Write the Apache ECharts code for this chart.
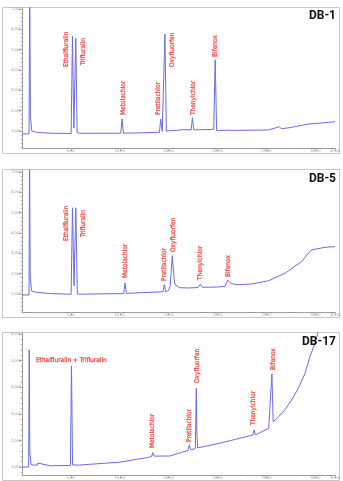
<!DOCTYPE html>
<html>
<head>
<meta charset="utf-8">
<script src="https://cdn.jsdelivr.net/npm/echarts@6/dist/echarts.min.js"></script>
<style>
html, body { margin: 0; padding: 0; background: #fff; }
#chart { width: 343px; height: 481px; }
</style>
</head>
<body>
<div id="chart"></div>
<script>
// retention time (min) / abundance
const db1Trace = [
    [0, 860], [0.72, 860], [0.79, 8000], [0.86, 1700], [0.92, 1690], [1.0, 1000], [1.2, 960],
    [1.55, 930], [1.62, 990], [1.7, 920], [3.0, 890], [3.05, 930], [3.12, 890], [5.02, 880],
    [5.16, 5670], [5.3, 1150], [5.5, 5560], [5.64, 920], [5.9, 890], [10.1, 890], [10.23, 1590],
    [10.38, 895], [12.0, 905], [14.05, 940], [14.18, 1590], [14.34, 980], [14.61, 5760],
    [14.76, 1000], [15.8, 1030], [16.5, 1070], [16.6, 1150], [16.7, 1060], [17.3, 1050],
    [17.42, 1650], [17.56, 1055], [19.6, 1080], [19.75, 4490], [19.9, 1010], [21.1, 1040],
    [21.3, 1110], [21.45, 1030], [25.2, 1050], [25.9, 1150], [26.0, 1080], [26.3, 1220],
    [26.5, 1110], [27.3, 1160], [29.3, 1340], [31.0, 1410], [32, 1460],
]
const db2Trace = [
    [0, 950], [0.72, 950], [0.77, 8000], [0.84, 1840], [0.9, 1830], [0.98, 1150], [1.3, 1100],
    [1.55, 1080], [1.62, 1150], [1.7, 1060], [2.9, 1020], [2.94, 1080], [3.0, 1010], [5.02, 985],
    [5.16, 5240], [5.32, 1400], [5.5, 5240], [5.66, 1000], [6.0, 990], [10.4, 1020], [10.53, 1540],
    [10.68, 1030], [13.0, 1084], [14.0, 1098], [14.42, 1110], [14.55, 1458], [14.7, 1110],
    [14.8, 1120], [15.0, 1180], [15.15, 1400], [15.36, 2880], [15.59, 1540], [15.8, 1394],
    [16.1, 1310], [17.0, 1295], [18.0, 1320], [18.23, 1480], [18.45, 1330], [20.0, 1344],
    [20.75, 1370], [21.03, 1690], [21.3, 1540], [21.57, 1490], [22.08, 1458], [23.49, 1492],
    [25.22, 1654], [26.94, 2033], [28.56, 2589], [29.57, 3165], [30.99, 3298], [32, 3327],
]
const db3Trace = [
    [0, 1000], [0.68, 1000], [0.74, 5400], [0.8, 1520], [0.87, 1500], [0.94, 1080], [1.55, 1070],
    [1.62, 1150], [1.7, 1075], [2.9, 1045], [2.94, 1080], [3.0, 1045], [4.95, 1060], [5.06, 4800],
    [5.17, 1075], [5.9, 1075], [9.9, 1180], [12.96, 1365], [13.25, 1400], [13.37, 1540],
    [13.5, 1410], [15.1, 1414], [16.95, 1620], [17.11, 1830], [17.24, 1650], [17.5, 1670],
    [17.72, 1700], [17.82, 3960], [17.88, 2330], [17.96, 1720], [18.05, 1703], [20.15, 1890],
    [21.84, 2042], [23.19, 2166], [23.6, 2200], [23.73, 2390], [23.86, 2210], [25.22, 2455],
    [25.42, 2510], [25.55, 4500], [25.68, 2700], [25.82, 2770], [26.23, 2890], [26.91, 3170],
    [27.57, 3520], [28.25, 3960], [28.93, 4520], [29.44, 5150], [29.94, 5650], [30.48, 6340],
]

// peak names and where their text starts (time, abundance)
const db1Names = ['Ethalfluralin', 'Trifluralin', 'Metolachlor', 'Pretilachlor', 'Oxyfluorfen', 'Thenylchlor', 'Bifenox']
const db1LabelAt = [[4.56, 4149], [6.28, 4247], [10.33, 1787], [13.97, 1787], [15.39, 4149], [17.47, 1787], [19.8, 4641]]
const db2Names = db1Names
const db2LabelAt = [[4.56, 3608], [6.28, 3804], [10.53, 1787], [14.53, 1640], [15.44, 3066], [18.23, 1689], [21.11, 1836]]
const db3Names = ['Ethalfluralin + Trifluralin', 'Metolachlor', 'Pretilachlor', 'Oxyfluorfen', 'Thenylchlor', 'Bifenox']
const db3LabelAt = [[1.42, 5004], [13.32, 1714], [17.06, 1940], [17.97, 4158], [23.65, 2579], [25.67, 4647]]

const columnNames = ['DB-1', 'DB-5', 'DB-17']

// tick labels
const xTicks = [5, 10, 15, 20, 25, 30, 32]
const yTicks12 = [1000, 2000, 3000, 4000, 5000, 6000, 7000]
const yTicks3 = [1000, 2000, 3000, 4000, 5000, 6000]

const panels = [
    { trace: db1Trace, names: db1Names, at: db1LabelAt, yTicks: yTicks12, min: 164, max: 7050, top: 8, height: 140, boxTop: 7, titleTop: 10 },
    { trace: db2Trace, names: db2Names, at: db2LabelAt, yTicks: yTicks12, min: 114, max: 7100, top: 170, height: 142, boxTop: 169, titleTop: 173 },
    { trace: db3Trace, names: db3Names, at: db3LabelAt, yTicks: yTicks3, min: 700, max: 6040, top: 333, height: 142, boxTop: 332, titleTop: 336 },
]

const axisGray = '#9a9a9a'
const traceColor = '#6b6be6'
const peakRed = '#e8231f'
const narrow = '"Liberation Sans Narrow", "DejaVu Sans Condensed", sans-serif'

function minorTicks(lo, hi, step) {
    const out = []
    for (let v = Math.ceil(lo / step) * step; v <= hi; v += step) out.push(v)
    return out
}

const grid = []
const xAxis = []
const yAxis = []
const series = []
const graphic = []
const title = []

panels.forEach((p, i) => {
    grid.push({ left: 22, top: p.top, width: 316, height: p.height })
    // major axis with labels
    xAxis.push({
        type: 'value', gridIndex: i, min: 0, max: 32, position: 'bottom',
        axisLine: { show: true, onZero: false, lineStyle: { color: axisGray, width: 1 } },
        axisTick: { show: true, customValues: xTicks, length: 3, lineStyle: { color: axisGray } },
        axisLabel: { customValues: xTicks, fontSize: 4, color: '#999', margin: 1, formatter: v => v.toFixed(2) },
        splitLine: { show: false },
    })
    // minor ticks only
    xAxis.push({
        type: 'value', gridIndex: i, min: 0, max: 32, position: 'bottom',
        axisLine: { show: false, onZero: false },
        axisTick: { show: true, customValues: minorTicks(0, 32, 1), length: 1.5, lineStyle: { color: '#bbb' } },
        axisLabel: { show: false },
        splitLine: { show: false },
    })
    yAxis.push({
        type: 'value', gridIndex: i, min: p.min, max: p.max, position: 'left',
        axisLine: { show: true, onZero: false, lineStyle: { color: axisGray, width: 1 } },
        axisTick: { show: true, customValues: p.yTicks, length: 3, lineStyle: { color: axisGray } },
        axisLabel: { customValues: p.yTicks, fontSize: 4, color: '#999', margin: 1 },
        splitLine: { show: false },
    })
    yAxis.push({
        type: 'value', gridIndex: i, min: p.min, max: p.max, position: 'left',
        axisLine: { show: false, onZero: false },
        axisTick: { show: true, customValues: minorTicks(p.min, p.max, 200), length: 1.5, lineStyle: { color: '#bbb' } },
        axisLabel: { show: false },
        splitLine: { show: false },
    })

    series.push({
        type: 'line',
        xAxisIndex: i * 2,
        yAxisIndex: i * 2,
        data: p.trace,
        showSymbol: false,
        clip: true,
        lineStyle: { color: traceColor, width: 1 },
        silent: true,
    })
    series.push({
        type: 'scatter',
        xAxisIndex: i * 2,
        yAxisIndex: i * 2,
        symbolSize: 0,
        silent: true,
        data: p.names.map((name, k) => {
            const item = { name: name, value: p.at[k] }
            if (name.indexOf('+') > -1) {
                item.label = { rotate: 0 }
            }
            return item
        }),
        label: {
            show: true,
            position: [0, 0],
            rotate: 90,
            align: 'left',
            verticalAlign: 'middle',
            formatter: '{b}',
            color: peakRed,
            fontSize: 6.5,
            fontFamily: narrow,
            textBorderColor: peakRed,
            textBorderWidth: 0.25,
        },
    })

    graphic.push({
        type: 'rect',
        shape: { x: 2.5, y: p.boxTop + 0.5, width: 337, height: p.height + 6 },
        style: { fill: 'none', stroke: '#c8c8c8', lineWidth: 1 },
        silent: true,
    })
    title.push({
        text: columnNames[i],
        right: 7,
        top: p.titleTop,
        padding: 0,
        textStyle: {
            fontSize: 12,
            fontWeight: 'bold',
            color: '#111',
            fontFamily: 'Roboto, sans-serif',
        },
    })
})

const chart = echarts.init(document.getElementById('chart'))
chart.setOption({
    animation: false,
    backgroundColor: '#fff',
    title: title,
    grid: grid,
    xAxis: xAxis,
    yAxis: yAxis,
    graphic: graphic,
    series: series,
})
</script>
</body>
</html>
